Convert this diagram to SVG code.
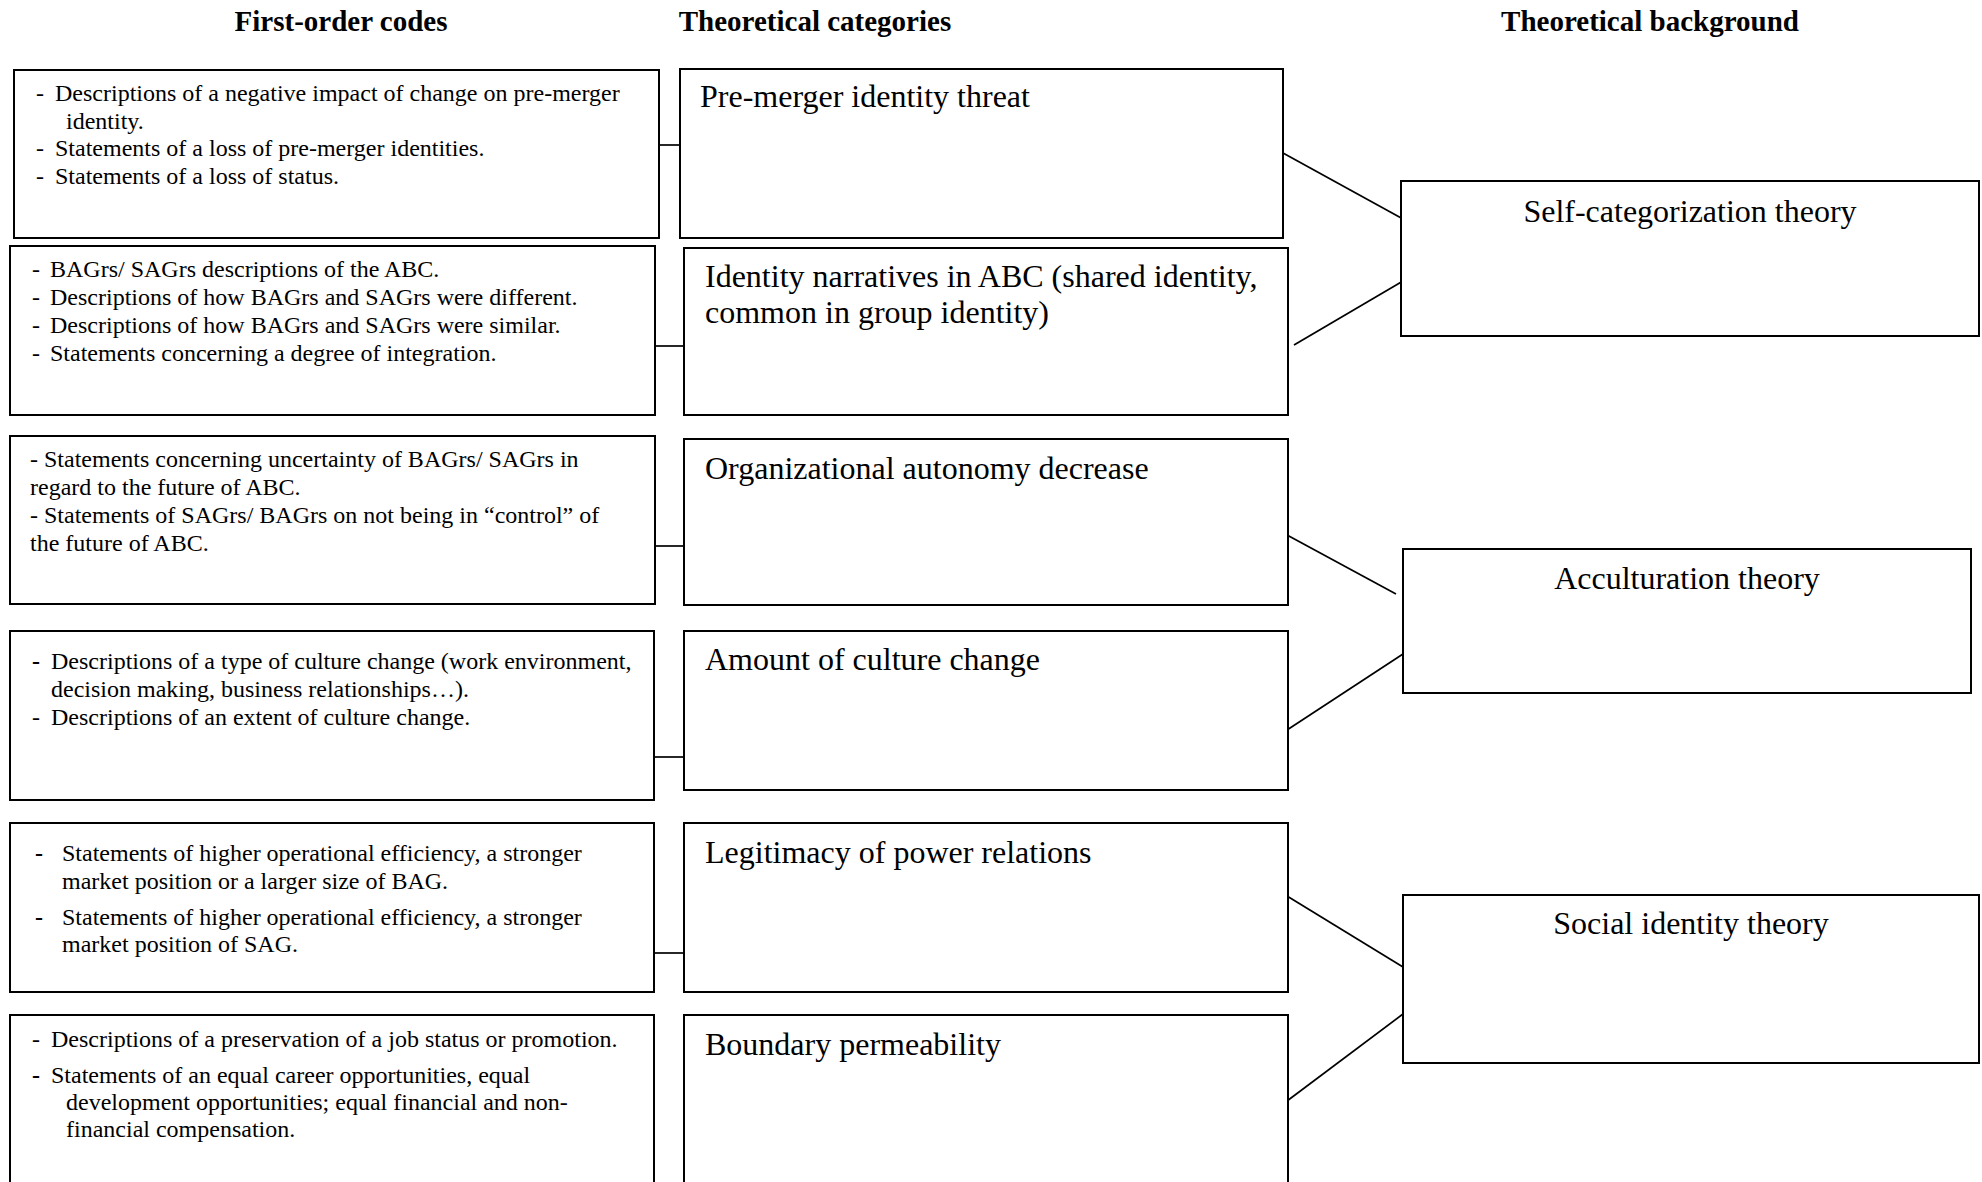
<svg xmlns="http://www.w3.org/2000/svg" width="1982" height="1182" viewBox="0 0 1982 1182">
<style>
.box{fill:#fff;stroke:#000;stroke-width:2}
.hd{font-family:"Liberation Serif","Times New Roman",serif;font-size:29px;font-weight:bold;fill:#000;text-anchor:middle}
.b{font-family:"Liberation Serif","Times New Roman",serif;font-size:24px;fill:#000}
.c{font-family:"Liberation Serif","Times New Roman",serif;font-size:32px;fill:#000}
.t{font-family:"Liberation Serif","Times New Roman",serif;font-size:32px;fill:#000;text-anchor:middle}
.bd{font-weight:bold}
.ln{stroke:#000;stroke-width:1.7;fill:none}
</style>
<rect width="1982" height="1182" fill="#fff"/>
<g id="headers">
<text class="hd" x="341" y="31">First-order codes</text>
<text class="hd" x="815" y="31">Theoretical categories</text>
<text class="hd" x="1650" y="31">Theoretical background</text>
</g>
<g id="connectors">
<line class="ln" x1="659" y1="145" x2="685" y2="145"/>
<line class="ln" x1="655" y1="346" x2="684" y2="346"/>
<line class="ln" x1="655" y1="546" x2="684" y2="546"/>
<line class="ln" x1="654" y1="757" x2="684" y2="757"/>
<line class="ln" x1="654" y1="953" x2="684" y2="953"/>
<line class="ln" x1="1283" y1="153" x2="1403" y2="219"/>
<line class="ln" x1="1294" y1="345" x2="1403" y2="281"/>
<line class="ln" x1="1287" y1="535" x2="1396" y2="594"/>
<line class="ln" x1="1287" y1="730" x2="1403" y2="654"/>
<line class="ln" x1="1287" y1="896" x2="1403" y2="967"/>
<line class="ln" x1="1287" y1="1101" x2="1403" y2="1014"/>
</g>
<g id="code1">
<rect class="box" x="14" y="70" width="645" height="168"/>
<text class="b" x="36" y="101">-</text><text class="b" x="55" y="101">Descriptions of a negative impact of change on pre-merger</text>
<text class="b" x="66" y="129">identity.</text>
<text class="b" x="36" y="156">-</text><text class="b" x="55" y="156">Statements of a loss of pre-merger identities.</text>
<text class="b" x="36" y="184">-</text><text class="b" x="55" y="184">Statements of a loss of status.</text>
</g>
<g id="code2">
<rect class="box" x="10" y="246" width="645" height="169"/>
<text class="b" x="32" y="277">-</text><text class="b" x="50" y="277">BAGrs/ SAGrs descriptions of the ABC.</text>
<text class="b" x="32" y="305">-</text><text class="b" x="50" y="305">Descriptions of how BAGrs and SAGrs were different.</text>
<text class="b" x="32" y="333">-</text><text class="b" x="50" y="333">Descriptions of how BAGrs and SAGrs were similar.</text>
<text class="b" x="32" y="361">-</text><text class="b" x="50" y="361">Statements concerning a degree of integration.</text>
</g>
<g id="code3">
<rect class="box" x="10" y="436" width="645" height="168"/>
<text class="b" x="30" y="467">- Statements concerning uncertainty of BAGrs/ SAGrs in</text>
<text class="b" x="30" y="495">regard to the future of ABC.</text>
<text class="b" x="30" y="523">- Statements of SAGrs/ BAGrs on not being in “control” of</text>
<text class="b" x="30" y="551">the future of ABC.</text>
</g>
<g id="code4">
<rect class="box" x="10" y="631" width="644" height="169"/>
<text class="b bd" x="32" y="669">-</text><text class="b" x="51" y="669">Descriptions of a type of culture change (work environment,</text>
<text class="b" x="51" y="697">decision making, business relationships…).</text>
<text class="b" x="32" y="725">-</text><text class="b" x="51" y="725">Descriptions of an extent of culture change.</text>
</g>
<g id="code5">
<rect class="box" x="10" y="823" width="644" height="169"/>
<text class="b bd" x="35" y="861">-</text><text class="b" x="62" y="861">Statements of higher operational efficiency, a stronger</text>
<text class="b" x="62" y="889">market position or a larger size of BAG.</text>
<text class="b bd" x="35" y="925">-</text><text class="b" x="62" y="925">Statements of higher operational efficiency, a stronger</text>
<text class="b" x="62" y="952">market position of SAG.</text>
</g>
<g id="code6">
<rect class="box" x="10" y="1015" width="644" height="190"/>
<text class="b" x="32" y="1047">-</text><text class="b" x="51" y="1047">Descriptions of a preservation of a job status or promotion.</text>
<text class="b bd" x="32" y="1083">-</text><text class="b" x="51" y="1083">Statements of an equal career opportunities, equal</text>
<text class="b" x="66" y="1110">development opportunities; equal financial and non-</text>
<text class="b" x="66" y="1137">financial compensation.</text>
</g>
<g id="cat1">
<rect class="box" x="680" y="69" width="603" height="169"/>
<text class="c" x="700" y="107">Pre-merger identity threat</text>
</g>
<g id="cat2">
<rect class="box" x="684" y="248" width="604" height="167"/>
<text class="c" x="705" y="287">Identity narratives in ABC (shared identity,</text>
<text class="c" x="705" y="323">common in group identity)</text>
</g>
<g id="cat3">
<rect class="box" x="684" y="439" width="604" height="166"/>
<text class="c" x="705" y="479">Organizational autonomy decrease</text>
</g>
<g id="cat4">
<rect class="box" x="684" y="631" width="604" height="159"/>
<text class="c" x="705" y="670">Amount of culture change</text>
</g>
<g id="cat5">
<rect class="box" x="684" y="823" width="604" height="169"/>
<text class="c" x="705" y="863">Legitimacy of power relations</text>
</g>
<g id="cat6">
<rect class="box" x="684" y="1015" width="604" height="190"/>
<text class="c" x="705" y="1055">Boundary permeability</text>
</g>
<g id="theory1">
<rect class="box" x="1401" y="181" width="578" height="155"/>
<text class="t" x="1690" y="222">Self-categorization theory</text>
</g>
<g id="theory2">
<rect class="box" x="1403" y="549" width="568" height="144"/>
<text class="t" x="1687" y="589">Acculturation theory</text>
</g>
<g id="theory3">
<rect class="box" x="1403" y="895" width="576" height="168"/>
<text class="t" x="1691" y="934">Social identity theory</text>
</g>
</svg>
